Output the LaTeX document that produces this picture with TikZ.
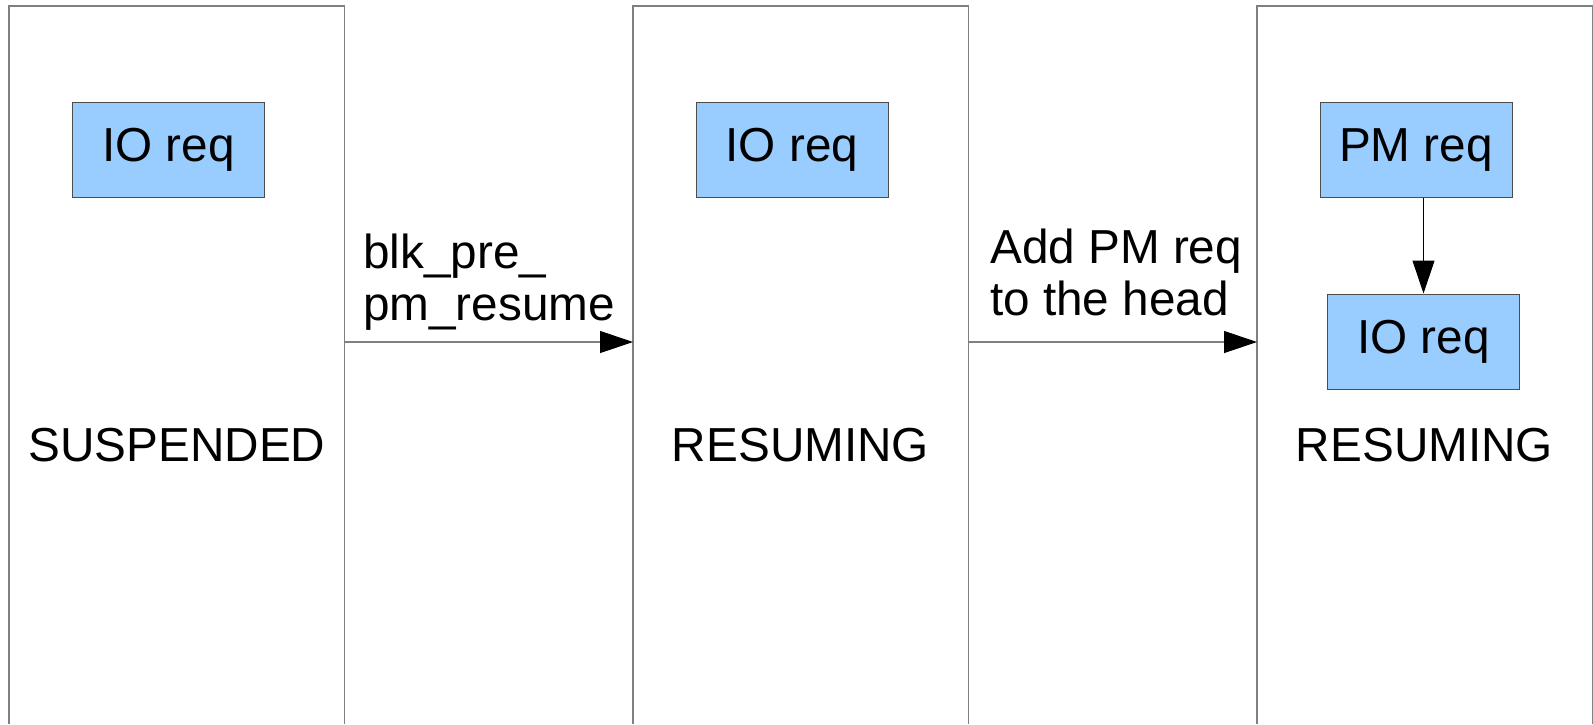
\documentclass[tikz,border=0pt]{standalone}
\usepackage{fontspec}
\setmainfont{Liberation Sans}
\usetikzlibrary{arrows.meta}
\definecolor{reqblue}{HTML}{99CCFF}
\definecolor{frame}{HTML}{808080}
\definecolor{reqedge}{HTML}{4D4D4D}
\begin{document}
\begin{tikzpicture}[x=1pt,y=-1pt,
  every node/.style={font=\fontsize{47.7}{52}\selectfont},
  statebox/.style={minimum width=335, minimum height=718, anchor=north west, inner sep=0, draw=none},
  reqbox/.style={fill=reqblue, draw=reqedge, line width=1pt, minimum width=192, minimum height=95, inner sep=0},
  statename/.style={anchor=base, inner sep=0},
  steplabel/.style={anchor=base west, align=left, inner sep=0},
  frameline/.style={draw=frame, line width=1.6pt},
  move/.style={draw=frame, line width=1.2pt, -{Triangle[length=33pt,width=22pt,fill=black,color=black]}},
  chain/.style={draw=black, line width=1pt, -{Triangle[length=33pt,width=22pt,fill=black]}}]
\useasboundingbox (0,0) rectangle (1593,724);
\fill[white] (0,0) rectangle (1593,724);

% three queue states, open at the bottom
\node[statebox] (s1) at (9,6) {};
\node[statebox] (s2) at (633,6) {};
\node[statebox] (s3) at (1257,6) {};
\foreach \s in {s1,s2,s3}
  \draw[frameline] (\s.south west) -- (\s.north west) -- (\s.north east) -- (\s.south east);

% requests queued in each state
\node[reqbox] (io1) at (168.5,150) {IO req};
\node[reqbox] (io2) at (792,150) {IO req};
\node[reqbox] (pm3) at (1416,150) {PM req};
\node[reqbox] (io3) at (1423.5,341.5) {IO req};
\draw[chain] (pm3.south -| io3.north) -- (io3.north);

% state names
\node[statename] (n1) at (177,461) {SUSPENDED};
\node[statename] (n2) at (800.5,461) {RESUMING};
\node[statename] (n3) at (1424.5,461) {RESUMING};

% transitions (label anchored on the baseline of its last line)
\coordinate (a1) at (0,342);
\draw[move] (s1.east |- a1) -- (s2.west |- a1);
\draw[move] (s2.east |- a1) -- (s3.west |- a1);
\node[steplabel] (t1) at (363,320) {blk\_pre\_\\pm\_resume};
\node[steplabel] (t2) at (990,315) {Add PM req\\to the head};
\end{tikzpicture}
\end{document}
